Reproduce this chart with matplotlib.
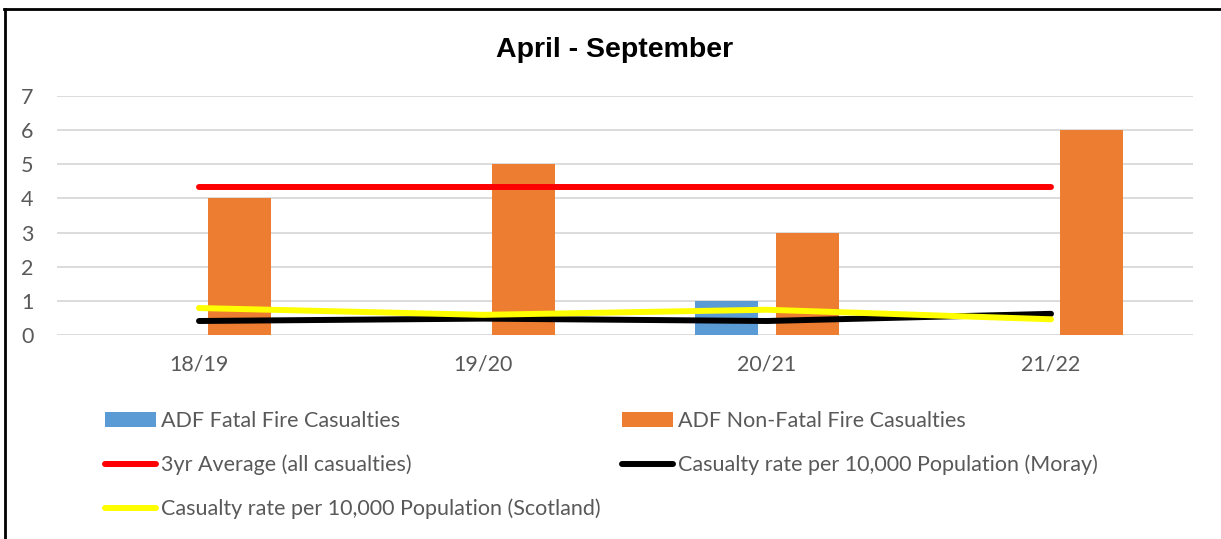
import matplotlib.pyplot as plt
from matplotlib.lines import Line2D
import numpy as np

# data
years = ['18/19', '19/20', '20/21', '21/22']
fatal = [0, 0, 1, 0]
non_fatal = [4, 5, 3, 6]
avg_3yr = [4.33, 4.33, 4.33, 4.33]
rate_moray = [0.41, 0.48, 0.41, 0.62]
rate_scotland = [0.79, 0.59, 0.74, 0.46]

W, H = 1221, 539
fig = plt.figure(figsize=(W / 100, H / 100), dpi=100)
ax = fig.add_axes([57 / W, 1 - 335 / H, (1193 - 57) / W, (335 - 96) / H])

grey = '#595959'
x = np.arange(len(years))
bw = 0.225
off = 0.1425

b1 = ax.bar(x - off, fatal, bw, color='#5B9BD5', label='ADF Fatal Fire Casualties', zorder=2)
b2 = ax.bar(x + off, non_fatal, bw, color='#ED7D31', label='ADF Non-Fatal Fire Casualties', zorder=2)
l1, = ax.plot(x, avg_3yr, color='#FF0000', lw=4.3, solid_capstyle='round',
              label='3yr Average (all casualties)', zorder=3)
l2, = ax.plot(x, rate_moray, color='#000000', lw=4.3, solid_capstyle='round',
              label='Casualty rate per 10,000 Population (Moray)', zorder=3)
l3, = ax.plot(x, rate_scotland, color='#FFFF00', lw=4.3, solid_capstyle='round',
              label='Casualty rate per 10,000 Population (Scotland)', zorder=4)

ax.set_xlim(-0.5, 3.5)
ax.set_ylim(0, 7)
ax.set_yticks(range(8))
ax.set_xticks(x)
ax.set_xticklabels(years)
ax.yaxis.grid(True, color='#D9D9D9', lw=1.3, zorder=0)
ax.set_axisbelow(True)
for s in ax.spines.values():
    s.set_visible(False)
ax.tick_params(length=0, labelcolor=grey, labelsize=15.5)
ax.tick_params(axis='y', pad=17)
ax.tick_params(axis='x', pad=14)
for t in ax.get_xticklabels() + ax.get_yticklabels():
    t.set_family('Lato')

fig.text(0.503, 1 - 50 / H, 'April - September', ha='center', va='center',
         fontsize=20.5, fontweight='bold', family='Liberation Sans')

# legend, column-major order
handles = [b1, l1, l3, b2, l2]
labels = [h.get_label() for h in handles]
leg = fig.legend(handles, labels, loc='upper left', bbox_to_anchor=(86 / W, 1 - 392 / H),
                 ncol=2, frameon=False, handlelength=2.35,
                 handletextpad=0.23, columnspacing=1.0, labelspacing=1.08,
                 prop={'family': 'Lato', 'size': 15.5})
for t in leg.get_texts():
    t.set_color(grey)

# outer frame (top and left edges)
fig.add_artist(Line2D([4 / W, 1], [1 - 9 / H, 1 - 9 / H], color='black', lw=2,
                      transform=fig.transFigure))
fig.add_artist(Line2D([5 / W, 5 / W], [0, 1 - 9 / H], color='black', lw=2,
                      transform=fig.transFigure))

fig.savefig('out.png', dpi=100)
